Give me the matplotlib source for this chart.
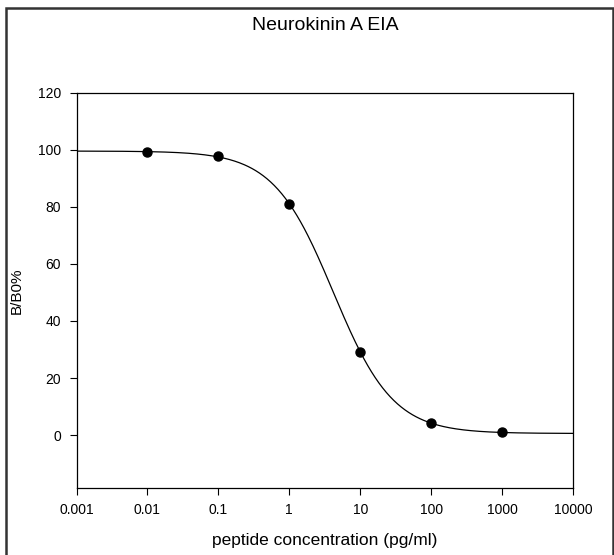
import numpy as np
import matplotlib
matplotlib.use("Agg")
import matplotlib.pyplot as plt
from matplotlib.patches import Rectangle

# standard concentrations (pg/ml) and measured B/B0 %
concentracion = [0.01, 0.1, 1, 10, 100, 1000]
b_b0 = [99.1, 97.8, 81.0, 29.3, 4.4, 1.0]

# four-parameter logistic fit
ajuste_max = 99.5
ajuste_min = 0.6
ajuste_ec50 = 4.18
ajuste_pendiente = 1.03

ticks_x = [0.001, 0.01, 0.1, 1, 10, 100, 1000, 10000]
etiquetas_x = ["0.001", "0.01", "0.1", "1", "10", "100", "1000", "10000"]
ticks_y = [0, 20, 40, 60, 80, 100, 120]


def logistica(x):
    return ajuste_min + (ajuste_max - ajuste_min) / (1 + (x / ajuste_ec50) ** ajuste_pendiente)


def main():
    plt.rcParams["font.family"] = ["Liberation Sans", "DejaVu Sans"]

    fig = plt.figure(figsize=(6.14, 5.55), dpi=100)
    ax = fig.add_axes([0.1246, 0.1207, 0.8086, 0.7126])

    x_curva = np.logspace(np.log10(ticks_x[0]), np.log10(ticks_x[-1]), 400)
    ax.plot(x_curva, logistica(x_curva), color="black", linewidth=0.9)
    ax.plot(concentracion, b_b0, linestyle="none", marker="o", markersize=6.5, color="black")

    ax.set_xscale("log")
    ax.set_xlim(ticks_x[0], ticks_x[-1])
    ax.set_ylim(-18.5, 120)
    ax.set_xticks(ticks_x)
    ax.set_xticklabels(etiquetas_x)
    ax.minorticks_off()
    ax.set_yticks(ticks_y)
    ax.tick_params(direction="out", length=5, width=0.8, labelsize=10, pad=6)

    for lado in ax.spines.values():
        lado.set_linewidth(0.9)

    ax.set_xlabel("peptide concentration (pg/ml)", fontsize=12.5, labelpad=11)
    ax.set_ylabel("B/B0%", fontsize=11, labelpad=10)
    fig.text(325 / 614, 1 - 26 / 555, "Neurokinin A EIA", ha="center", va="center", fontsize=14)

    # outer frame around the figure, cut off at the bottom
    fig.patches.append(Rectangle((6 / 614, -0.05), 607 / 614, 1.05 - 8 / 555,
                                 transform=fig.transFigure, fill=False,
                                 edgecolor="#333333", linewidth=1.8))

    fig.savefig("out.png", dpi=100)


if __name__ == "__main__":
    main()
